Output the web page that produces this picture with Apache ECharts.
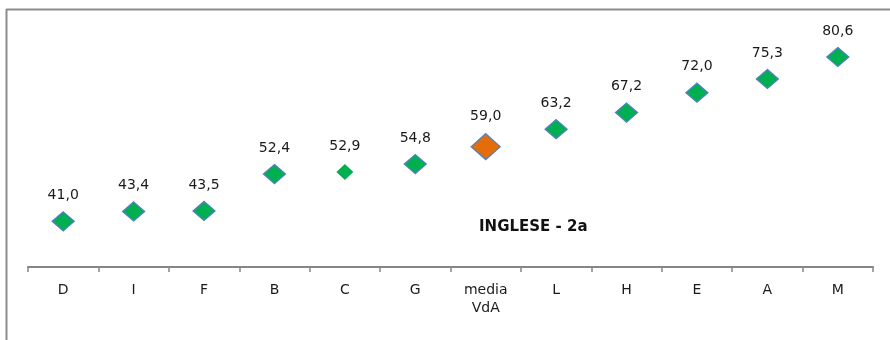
<!DOCTYPE html>
<html>
<head>
<meta charset="utf-8">
<script src="https://cdn.jsdelivr.net/npm/echarts@6/dist/echarts.min.js"></script>
<style>html,body{margin:0;padding:0;background:#fff}#c{width:890px;height:340px}</style>
</head>
<body>
<div id="c"></div>
<script>
const categories = ['D','I','F','B','C','G','media\nVdA','L','H','E','A','M'];
const values = [41.0,43.4,43.5,52.4,52.9,54.8,59.0,63.2,67.2,72.0,75.3,80.6];
const title = 'INGLESE - 2a';
const highlight = 'media\nVdA';

const FONT = '"DejaVu Sans", sans-serif';
const chart = echarts.init(document.getElementById('c'));
const data = values.map((v,i)=>{
  const hl = categories[i] === highlight;
  const small = categories[i] === 'C';
  return {
    value: v,
    symbolSize: hl ? [29, 26] : (small ? [17, 16] : [22, 19]),
    itemStyle: {
      color: hl ? '#E46C0A' : '#00B050',
      borderColor: small ? '#00B050' : '#4F81BD',
      borderWidth: small ? 0 : 1.3,
      opacity: 1
    },
    label: { distance: hl ? 10 : (small ? 11 : 9) }
  };
});
chart.setOption({
  animation: false,
  textStyle: { fontFamily: FONT },
  grid: { left: 28, right: 17, top: 18, bottom: 73 },
  xAxis: {
    type: 'category',
    data: categories,
    boundaryGap: true,
    axisLine: { lineStyle: { color: '#868686', width: 2 } },
    axisTick: { show: true, length: 5, lineStyle: { color: '#868686', width: 1.5 } },
    axisLabel: { color: '#1a1a1a', fontSize: 14, fontFamily: FONT, margin: 14, lineHeight: 18, interval: 0 }
  },
  yAxis: {
    type: 'value', min: 30, max: 90, interval: 10,
    show: false, splitLine: { show: false }
  },
  series: [{
    type: 'scatter',
    symbol: 'diamond',
    data: data,
    label: {
      show: true, position: 'top', color: '#1a1a1a', fontSize: 14, fontFamily: FONT,
      formatter: p => p.value.toFixed(1).replace('.', ',')
    }
  }],
  graphic: [
    { type: 'line', shape: { x1: 6.5, y1: 9, x2: 6.5, y2: 340 }, style: { stroke: '#8c8c8c', lineWidth: 2 } },
    { type: 'line', shape: { x1: 6, y1: 9.5, x2: 890, y2: 9.5 }, style: { stroke: '#8c8c8c', lineWidth: 2 } },
    { type: 'text', x: 479, y: 227, style: { text: title, font: 'bold 15px "DejaVu Sans", sans-serif', fill: '#111', textVerticalAlign: 'middle', verticalAlign: 'middle' } }
  ]
});
</script>
</body>
</html>
